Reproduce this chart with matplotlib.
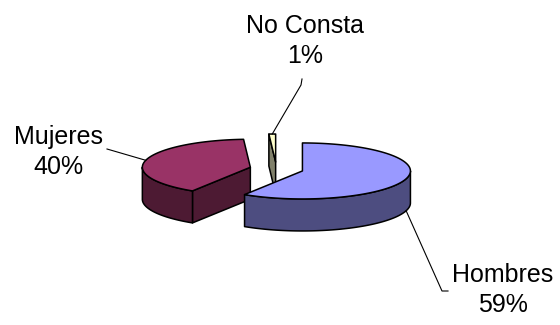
import numpy as np
import matplotlib.pyplot as plt
from matplotlib.patches import Polygon

plt.rcParams['font.family'] = ['Liberation Sans', 'DejaVu Sans']

labels = ['Hombres', 'Mujeres', 'No Consta']
values = [59, 40, 1]
top_colors = ['#9999ff', '#993366', '#ffffcc']
side_colors = ['#4d4d80', '#4d1a33', '#80806a']

# pie geometry in pixel units
cx, cy = 276.5, 169.0
rx, ry = 108.0, 28.0
depth = 32.0
explode = 0.25

# label layout: text centre, leader elbow, leader end
label_pos = [(503, 290), (58, 152), (305, 41)]
leader_pts = [[(442, 291), (448, 291)], [(107, 149)], [(301, 85), (302, 79)]]

fig = plt.figure(figsize=(5.6, 3.25), dpi=100)
ax = fig.add_axes([0, 0, 1, 1])
ax.set_xlim(0, 560)
ax.set_ylim(325, 0)
ax.axis('off')


def pt(ox, oy, t, z=0.0):
    r = np.radians(t)
    return ox + rx * np.cos(r), oy - ry * np.sin(r) + z


def arc(ox, oy, a, b, z=0.0, n=120):
    t = np.linspace(a, b, n)
    r = np.radians(t)
    return np.column_stack([ox + rx * np.cos(r), oy - ry * np.sin(r) + z])


slices = []
start = 90.0
for lab, v, tc, sc in zip(labels, values, top_colors, side_colors):
    span = 360.0 * v / sum(values)
    t1, t2 = start - span, start
    mid = (t1 + t2) / 2
    ox = cx + explode * rx * np.cos(np.radians(mid))
    oy = cy - explode * ry * np.sin(np.radians(mid))
    slices.append(dict(label=lab, value=v, t1=t1, t2=t2, mid=mid,
                       ox=ox, oy=oy, top=tc, side=sc))
    start = t1

edge = dict(edgecolor='black', linewidth=1.1, joinstyle='round')

# back slices first
for s in sorted(slices, key=lambda s: s['oy']):
    ox, oy, t1, t2 = s['ox'], s['oy'], s['t1'], s['t2']

    # radial cut faces facing the viewer
    for t, nrm in ((t1, t1 - 90), (t2, t2 + 90)):
        if np.sin(np.radians(nrm)) < -1e-6:
            x0, y0 = pt(ox, oy, t)
            quad = [(ox, oy), (x0, y0), (x0, y0 + depth), (ox, oy + depth)]
            ax.add_patch(Polygon(quad, closed=True, facecolor=s['side'], **edge))

    # front part of the outer wall
    for k in range(-2, 2):
        a = max(t1, 180 + 360 * k)
        b = min(t2, 360 + 360 * k)
        if b > a:
            top_arc = arc(ox, oy, a, b)
            bot_arc = arc(ox, oy, a, b, depth)[::-1]
            ax.add_patch(Polygon(np.vstack([top_arc, bot_arc]), closed=True,
                                 facecolor=s['side'], **edge))

    # top face
    top = np.vstack([[(ox, oy)], arc(ox, oy, t1, t2)])
    ax.add_patch(Polygon(top, closed=True, facecolor=s['top'], **edge))

# labels with leader lines
for s, (lx, ly), pts in zip(slices, label_pos, leader_pts):
    front = np.sin(np.radians(s['mid'])) < 0
    x0, y0 = pt(s['ox'], s['oy'], s['mid'], depth if front else 0.0)
    xs = [x0] + [p[0] for p in pts]
    ys = [y0] + [p[1] for p in pts]
    ax.plot(xs, ys, color='black', lw=0.8)
    ax.text(lx, ly, f"{s['label']}\n{s['value']}%", ha='center', va='center',
            fontsize=18, linespacing=1.35, color='black')

fig.savefig('out.png', dpi=100)
